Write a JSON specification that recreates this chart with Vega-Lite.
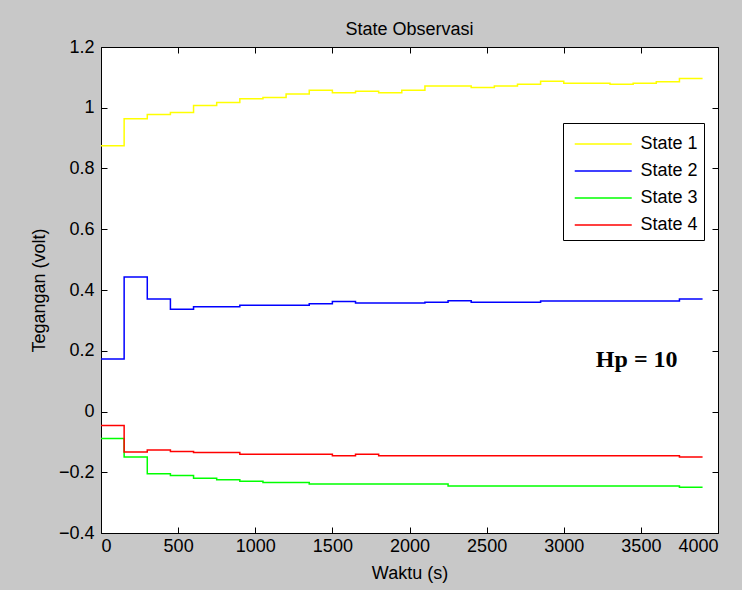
{
  "$schema": "https://vega.github.io/schema/vega-lite/v6.json",
  "autosize": "none",
  "width": 617,
  "height": 486,
  "padding": {"left": 101, "top": 47, "right": 24, "bottom": 57},
  "background": "#c8c8c8",
  "title": {"text": "State Observasi", "font": "Liberation Sans", "fontSize": 18, "fontWeight": "normal", "color": "black", "anchor": "middle", "offset": -1},
  "config": {
    "view": {"fill": "white", "stroke": "black", "strokeWidth": 1},
    "axis": {"domain": false, "grid": false, "tickColor": "black", "tickSize": -6, "labelFont": "Liberation Sans", "labelFontSize": 18, "labelColor": "black", "titleFont": "Liberation Sans", "titleFontSize": 18, "titleFontWeight": "normal", "titleColor": "black"},
    "legend": {"labelFont": "Liberation Sans", "labelFontSize": 18, "labelColor": "black"}
  },
  "datasets": {
    "states": [
      {"t": 0, "v": 0.875, "s": "State 1"}, {"t": 150, "v": 0.964, "s": "State 1"}, {"t": 300, "v": 0.978, "s": "State 1"}, {"t": 450, "v": 0.984, "s": "State 1"}, {"t": 600, "v": 1.007, "s": "State 1"}, {"t": 750, "v": 1.017, "s": "State 1"}, {"t": 900, "v": 1.030, "s": "State 1"}, {"t": 1050, "v": 1.034, "s": "State 1"}, {"t": 1200, "v": 1.045, "s": "State 1"}, {"t": 1350, "v": 1.058, "s": "State 1"}, {"t": 1500, "v": 1.049, "s": "State 1"}, {"t": 1650, "v": 1.054, "s": "State 1"}, {"t": 1800, "v": 1.049, "s": "State 1"}, {"t": 1950, "v": 1.058, "s": "State 1"}, {"t": 2100, "v": 1.072, "s": "State 1"}, {"t": 2250, "v": 1.072, "s": "State 1"}, {"t": 2400, "v": 1.067, "s": "State 1"}, {"t": 2550, "v": 1.072, "s": "State 1"}, {"t": 2700, "v": 1.077, "s": "State 1"}, {"t": 2850, "v": 1.087, "s": "State 1"}, {"t": 3000, "v": 1.081, "s": "State 1"}, {"t": 3150, "v": 1.081, "s": "State 1"}, {"t": 3300, "v": 1.077, "s": "State 1"}, {"t": 3450, "v": 1.081, "s": "State 1"}, {"t": 3600, "v": 1.086, "s": "State 1"}, {"t": 3750, "v": 1.096, "s": "State 1"}, {"t": 3900, "v": 1.096, "s": "State 1"},
      {"t": 0, "v": 0.173, "s": "State 2"}, {"t": 150, "v": 0.443, "s": "State 2"}, {"t": 300, "v": 0.370, "s": "State 2"}, {"t": 450, "v": 0.337, "s": "State 2"}, {"t": 600, "v": 0.345, "s": "State 2"}, {"t": 750, "v": 0.345, "s": "State 2"}, {"t": 900, "v": 0.350, "s": "State 2"}, {"t": 1050, "v": 0.350, "s": "State 2"}, {"t": 1200, "v": 0.350, "s": "State 2"}, {"t": 1350, "v": 0.355, "s": "State 2"}, {"t": 1500, "v": 0.362, "s": "State 2"}, {"t": 1650, "v": 0.357, "s": "State 2"}, {"t": 1800, "v": 0.357, "s": "State 2"}, {"t": 1950, "v": 0.357, "s": "State 2"}, {"t": 2100, "v": 0.360, "s": "State 2"}, {"t": 2250, "v": 0.365, "s": "State 2"}, {"t": 2400, "v": 0.360, "s": "State 2"}, {"t": 2550, "v": 0.360, "s": "State 2"}, {"t": 2700, "v": 0.360, "s": "State 2"}, {"t": 2850, "v": 0.364, "s": "State 2"}, {"t": 3000, "v": 0.364, "s": "State 2"}, {"t": 3150, "v": 0.364, "s": "State 2"}, {"t": 3300, "v": 0.364, "s": "State 2"}, {"t": 3450, "v": 0.364, "s": "State 2"}, {"t": 3600, "v": 0.364, "s": "State 2"}, {"t": 3750, "v": 0.370, "s": "State 2"}, {"t": 3900, "v": 0.370, "s": "State 2"},
      {"t": 0, "v": -0.089, "s": "State 3"}, {"t": 150, "v": -0.150, "s": "State 3"}, {"t": 300, "v": -0.205, "s": "State 3"}, {"t": 450, "v": -0.211, "s": "State 3"}, {"t": 600, "v": -0.220, "s": "State 3"}, {"t": 750, "v": -0.225, "s": "State 3"}, {"t": 900, "v": -0.230, "s": "State 3"}, {"t": 1050, "v": -0.234, "s": "State 3"}, {"t": 1200, "v": -0.234, "s": "State 3"}, {"t": 1350, "v": -0.239, "s": "State 3"}, {"t": 1500, "v": -0.239, "s": "State 3"}, {"t": 1650, "v": -0.239, "s": "State 3"}, {"t": 1800, "v": -0.239, "s": "State 3"}, {"t": 1950, "v": -0.239, "s": "State 3"}, {"t": 2100, "v": -0.239, "s": "State 3"}, {"t": 2250, "v": -0.245, "s": "State 3"}, {"t": 2400, "v": -0.245, "s": "State 3"}, {"t": 2550, "v": -0.245, "s": "State 3"}, {"t": 2700, "v": -0.245, "s": "State 3"}, {"t": 2850, "v": -0.245, "s": "State 3"}, {"t": 3000, "v": -0.245, "s": "State 3"}, {"t": 3150, "v": -0.245, "s": "State 3"}, {"t": 3300, "v": -0.245, "s": "State 3"}, {"t": 3450, "v": -0.245, "s": "State 3"}, {"t": 3600, "v": -0.245, "s": "State 3"}, {"t": 3750, "v": -0.249, "s": "State 3"}, {"t": 3900, "v": -0.249, "s": "State 3"},
      {"t": 0, "v": -0.046, "s": "State 4"}, {"t": 150, "v": -0.133, "s": "State 4"}, {"t": 300, "v": -0.127, "s": "State 4"}, {"t": 450, "v": -0.132, "s": "State 4"}, {"t": 600, "v": -0.135, "s": "State 4"}, {"t": 750, "v": -0.135, "s": "State 4"}, {"t": 900, "v": -0.141, "s": "State 4"}, {"t": 1050, "v": -0.141, "s": "State 4"}, {"t": 1200, "v": -0.141, "s": "State 4"}, {"t": 1350, "v": -0.141, "s": "State 4"}, {"t": 1500, "v": -0.146, "s": "State 4"}, {"t": 1650, "v": -0.141, "s": "State 4"}, {"t": 1800, "v": -0.146, "s": "State 4"}, {"t": 1950, "v": -0.146, "s": "State 4"}, {"t": 2100, "v": -0.146, "s": "State 4"}, {"t": 2250, "v": -0.146, "s": "State 4"}, {"t": 2400, "v": -0.146, "s": "State 4"}, {"t": 2550, "v": -0.146, "s": "State 4"}, {"t": 2700, "v": -0.146, "s": "State 4"}, {"t": 2850, "v": -0.146, "s": "State 4"}, {"t": 3000, "v": -0.146, "s": "State 4"}, {"t": 3150, "v": -0.146, "s": "State 4"}, {"t": 3300, "v": -0.146, "s": "State 4"}, {"t": 3450, "v": -0.146, "s": "State 4"}, {"t": 3600, "v": -0.146, "s": "State 4"}, {"t": 3750, "v": -0.150, "s": "State 4"}, {"t": 3900, "v": -0.150, "s": "State 4"}
    ],
    "note": [{"t": 3473, "v": 0.146, "label": "Hp = 10"}]
  },
  "resolve": {"axis": {"x": "independent", "y": "independent"}},
  "layer": [
    {
      "data": {"name": "states"},
      "mark": {"type": "line", "interpolate": "step-after", "strokeWidth": 1.5},
      "encoding": {
        "x": {"field": "t", "type": "quantitative", "scale": {"domain": [0, 4000], "nice": false, "zero": false},
              "axis": {"orient": "bottom", "values": [0, 500, 1000, 1500, 2000, 2500, 3000, 3500, 4000], "format": "d", "title": "Waktu (s)", "labelPadding": 10, "titlePadding": 9}},
        "y": {"field": "v", "type": "quantitative", "scale": {"domain": [-0.4, 1.2], "nice": false, "zero": false},
              "axis": {"orient": "left", "values": [-0.4, -0.2, 0, 0.2, 0.4, 0.6, 0.8, 1, 1.2], "format": "~g", "title": "Tegangan (volt)", "labelPadding": 13, "titlePadding": 10}},
        "color": {"field": "s", "type": "nominal",
                  "scale": {"domain": ["State 1", "State 2", "State 3", "State 4"], "range": ["#ffff00", "#0000ff", "#00ff00", "#ff0000"]},
                  "legend": {"title": null, "orient": "none", "legendX": 462, "legendY": 76, "fillColor": "white", "strokeColor": "black", "padding": 6, "symbolType": "M-0.65,0H3.35", "symbolSize": 812, "symbolStrokeWidth": 1.5, "labelOffset": 41.5, "rowPadding": 3}}
      }
    },
    {
      "data": {"name": "note"},
      "mark": {"type": "text", "font": "Liberation Serif", "fontWeight": "bold", "fontSize": 24, "align": "center", "baseline": "alphabetic", "color": "black"},
      "encoding": {
        "x": {"field": "t", "type": "quantitative", "axis": {"orient": "top", "labels": false, "title": null, "values": [0, 500, 1000, 1500, 2000, 2500, 3000, 3500, 4000]}},
        "y": {"field": "v", "type": "quantitative", "axis": {"orient": "right", "labels": false, "title": null, "values": [-0.4, -0.2, 0, 0.2, 0.4, 0.6, 0.8, 1, 1.2]}},
        "text": {"field": "label", "type": "nominal"}
      }
    }
  ]
}
